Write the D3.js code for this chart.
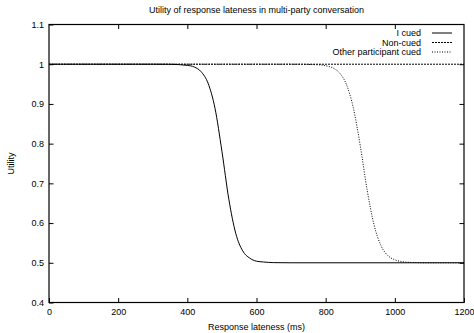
<!DOCTYPE html>
<html>
<head>
<meta charset="utf-8">
<script src="https://cdn.jsdelivr.net/npm/d3@7"></script>
<style>
  body { margin: 0; background: #fff; }
  text { font-family: "Liberation Sans", Arial, sans-serif; fill: #000; }
</style>
</head>
<body>
<svg width="474" height="333"></svg>
<script>
const width = 474;
const height = 333;
const margin = { top: 24.5, right: 10, bottom: 30.5, left: 49 };

const title = 'Utility of response lateness in multi-party conversation';
const xLabel = 'Response lateness (ms)';
const yLabel = 'Utility';

const xTicks = [0, 200, 400, 600, 800, 1000, 1200];
const yTicks = [0.4, 0.5, 0.6, 0.7, 0.8, 0.9, 1, 1.1];

const seriesNames = ['I cued', 'Non-cued', 'Other participant cued'];

// values
const iCuedX = [0, 300, 350, 400, 420, 440, 460, 480, 500, 520, 540, 560, 580, 600, 620, 650, 700, 1200];
const iCuedY = [1, 1, 0.9998, 0.997, 0.993, 0.981, 0.952, 0.889, 0.781, 0.660, 0.574, 0.530, 0.512, 0.504, 0.502, 0.5004, 0.5, 0.5];

const nonCuedX = [0, 1200];
const nonCuedY = [1, 1];

const otherX = [0, 700, 780, 800, 820, 840, 860, 880, 900, 920, 940, 960, 980, 1000, 1020, 1050, 1100, 1200];
const otherY = [1, 1, 0.9985, 0.996, 0.991, 0.978, 0.949, 0.890, 0.795, 0.683, 0.595, 0.543, 0.518, 0.5075, 0.503, 0.5008, 0.5, 0.5];

const svg = d3.select('svg');
const fs = 9;

const x = d3.scaleLinear()
  .domain([0, 1200])
  .range([margin.left, width - margin.right]);

const y = d3.scaleLinear()
  .domain([0.4, 1.1])
  .range([height - margin.bottom, margin.top]);

const tickLen = 4.5;

// ticks, mirrored on all sides
svg.append('g')
  .attr('transform', `translate(0,${height - margin.bottom})`)
  .call(d3.axisBottom(x).tickValues(xTicks).tickSize(-tickLen).tickPadding(6).tickFormat(d3.format('d')))
  .call(g => g.select('.domain').remove());

svg.append('g')
  .attr('transform', `translate(0,${margin.top})`)
  .call(d3.axisTop(x).tickValues(xTicks.slice(1, -1)).tickSize(-tickLen).tickFormat(''))
  .call(g => g.select('.domain').remove());

svg.append('g')
  .attr('transform', `translate(${margin.left},0)`)
  .call(d3.axisLeft(y).tickValues(yTicks).tickSize(-tickLen).tickPadding(5).tickFormat(d3.format('')))
  .call(g => g.select('.domain').remove());

svg.append('g')
  .attr('transform', `translate(${width - margin.right},0)`)
  .call(d3.axisRight(y).tickValues(yTicks.slice(1, -1)).tickSize(-tickLen).tickFormat(''))
  .call(g => g.select('.domain').remove());

svg.selectAll('.tick text').attr('font-size', fs).attr('font-family', '"Liberation Sans", Arial, sans-serif');
svg.selectAll('.tick line').attr('stroke', '#000');

const line = d3.line()
  .x(d => x(d[0]))
  .y(d => y(d[1]))
  .curve(d3.curveMonotoneX);

const series = [
  { name: seriesNames[0], pts: d3.zip(iCuedX, iCuedY), dash: null },
  { name: seriesNames[1], pts: d3.zip(nonCuedX, nonCuedY), dash: '2,1' },
  { name: seriesNames[2], pts: d3.zip(otherX, otherY), dash: '1,1.5' },
];

svg.append('g')
  .selectAll('path')
  .data(series)
  .enter()
  .append('path')
  .attr('d', d => line(d.pts))
  .attr('fill', 'none')
  .attr('stroke', '#000')
  .attr('stroke-width', 1)
  .attr('stroke-dasharray', d => d.dash);

// frame
svg.append('rect')
  .attr('x', margin.left)
  .attr('y', margin.top)
  .attr('width', width - margin.left - margin.right)
  .attr('height', height - margin.top - margin.bottom)
  .attr('fill', 'none')
  .attr('stroke', '#000')
  .attr('stroke-width', 1.2);

// legend
const legend = svg.append('g')
  .selectAll('g')
  .data(series)
  .enter()
  .append('g')
  .attr('transform', (d, i) => `translate(0,${33 + i * 9.5})`);

legend.append('text')
  .attr('x', 421)
  .attr('y', 3)
  .attr('text-anchor', 'end')
  .attr('font-size', fs)
  .text(d => d.name);

legend.append('line')
  .attr('x1', 432)
  .attr('x2', 452)
  .attr('stroke', '#000')
  .attr('stroke-dasharray', d => d.dash);

svg.append('text')
  .attr('x', (margin.left + width - margin.right) / 2)
  .attr('y', 13)
  .attr('text-anchor', 'middle')
  .attr('font-size', fs)
  .text(title);

svg.append('text')
  .attr('x', (margin.left + width - margin.right) / 2)
  .attr('y', 330)
  .attr('text-anchor', 'middle')
  .attr('font-size', fs)
  .text(xLabel);

svg.append('text')
  .attr('transform', `translate(14,${(margin.top + height - margin.bottom) / 2}) rotate(-90)`)
  .attr('text-anchor', 'middle')
  .attr('font-size', fs)
  .text(yLabel);
</script>
</body>
</html>
